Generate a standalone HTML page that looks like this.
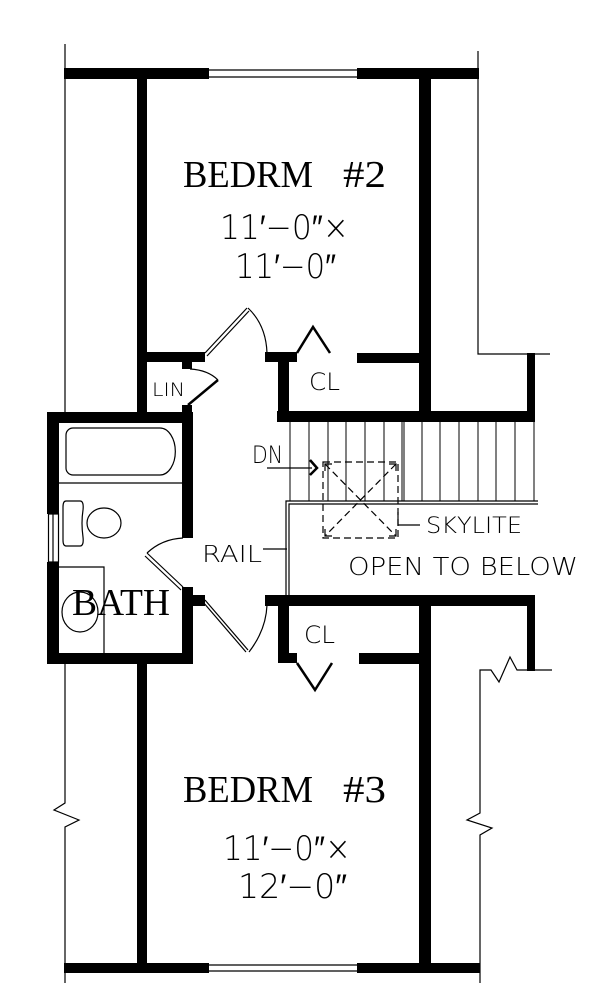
<!DOCTYPE html>
<html><head><meta charset="utf-8"><style>html,body{margin:0;padding:0;background:#fff}svg{display:block}
.c{font-family:"DejaVu Sans","Liberation Sans",sans-serif;font-weight:200;fill:#000}
.s{font-family:"Liberation Serif",serif;fill:#000}</style></head>
<body>
<svg width="600" height="1008" viewBox="0 0 600 1008" xmlns="http://www.w3.org/2000/svg">
<g fill="#000">
<!-- top wall -->
<rect x="64" y="68" width="415" height="11"/>
<rect x="209" y="68" width="148" height="11" fill="#fff"/>
<!-- bottom wall -->
<rect x="64" y="963" width="416" height="10"/>
<rect x="209" y="963" width="148" height="10" fill="#fff"/>
<!-- bedroom side walls -->
<rect x="137" y="79" width="10" height="333"/>
<rect x="137" y="664" width="10" height="300"/>
<rect x="419" y="79" width="12" height="343"/>
<rect x="419" y="595" width="12" height="368"/>
<!-- bedroom2 bottom walls -->
<rect x="147" y="352" width="58" height="10"/>
<rect x="182" y="352" width="10" height="17"/>
<rect x="265" y="352" width="32" height="10"/>
<rect x="278" y="352" width="11" height="70"/>
<rect x="357" y="353" width="63" height="10"/>
<!-- stair top wall -->
<rect x="277" y="411" width="258" height="11"/>
<rect x="527" y="353" width="8" height="69"/>
<!-- bath -->
<rect x="47" y="412" width="146" height="11"/>
<rect x="182" y="405" width="10" height="10"/>
<rect x="47" y="412" width="12" height="102"/>
<rect x="47" y="562" width="12" height="102"/>
<rect x="47" y="653" width="146" height="11"/>
<rect x="182" y="412" width="11" height="126"/>
<rect x="182" y="587" width="11" height="77"/>
<rect x="182" y="595" width="23" height="11"/>
<!-- bedroom3 top wall -->
<rect x="265" y="595" width="270" height="11"/>
<rect x="527" y="595" width="8" height="76"/>
<rect x="278" y="595" width="11" height="68"/>
<rect x="278" y="653" width="19" height="10"/>
<rect x="359" y="653" width="61" height="11"/>
</g>
<g fill="none" stroke="#000" stroke-width="1.2">
<!-- windows -->
<line x1="209" y1="70" x2="357" y2="70"/><line x1="209" y1="77" x2="357" y2="77"/>
<line x1="209" y1="965" x2="357" y2="965"/><line x1="209" y1="971" x2="357" y2="971"/>
<rect x="48.5" y="514" width="10" height="48"/><line x1="53" y1="514" x2="53" y2="562"/>
<!-- outer thin lines -->
<polyline points="65,44 65,412"/>
<polyline points="65,664 65,803 54,810 79,820 65,827 65,983"/>
<polyline points="478,51 478,354 550,354"/>
<polyline points="552,670 517,670 510,657 499,682 491,670 480,670 480,813 467,820 492,828 480,835 480,983"/>
<!-- bedroom2 door -->
<line x1="205" y1="353" x2="247" y2="308"/><line x1="207" y1="356" x2="249" y2="311"/>
<path d="M248,308 Q266,325 267,353"/>
<!-- CL bifold top -->
<polyline points="297,353 313,327 330,353" stroke-width="2.5"/>
<!-- LIN door -->
<line x1="188" y1="405" x2="218" y2="380" stroke-width="2.5"/>
<path d="M190,369 Q208,370 218,380"/>
<!-- bath door -->
<line x1="183" y1="587" x2="147" y2="553"/><line x1="181" y1="590" x2="145" y2="556"/>
<path d="M147,553 Q162,539 183,538"/>
<!-- bedroom3 door -->
<line x1="205" y1="600" x2="248" y2="650"/><line x1="203" y1="602" x2="246" y2="652"/>
<path d="M249,652 Q266,630 267,605"/>
<!-- CL bifold bottom -->
<polyline points="297,663 315,690 332,663" stroke-width="2.5"/>
<!-- tub -->
<path d="M73,428 H160 A15,23 0 0 1 160,475 H73 A7,7 0 0 1 66,468 V435 A7,7 0 0 1 73,428 Z"/>
<line x1="59" y1="483" x2="182" y2="483"/>
<!-- toilet -->
<path d="M66,501 H80 Q84,501 83,510 Q81,523 83,537 Q84,546 80,546 H66 Q63,546 63,540 V507 Q63,501 66,501Z"/>
<ellipse cx="104" cy="523" rx="17" ry="15"/>
<!-- vanity -->
<polyline points="59,567 104,567 104,653"/>
<ellipse cx="80" cy="612" rx="18" ry="20"/>
<!-- stairs -->
<g stroke-width="1">
<line x1="290" y1="422" x2="290" y2="501"/><line x1="309" y1="422" x2="309" y2="501"/>
<line x1="328" y1="422" x2="328" y2="501"/><line x1="346" y1="422" x2="346" y2="501"/>
<line x1="365" y1="422" x2="365" y2="501"/><line x1="384" y1="422" x2="384" y2="501"/>
<line x1="402" y1="422" x2="402" y2="501"/><line x1="404" y1="422" x2="404" y2="501"/>
<line x1="422" y1="422" x2="422" y2="501"/><line x1="440" y1="422" x2="440" y2="501"/>
<line x1="459" y1="422" x2="459" y2="501"/><line x1="478" y1="422" x2="478" y2="501"/>
<line x1="496" y1="422" x2="496" y2="501"/><line x1="515" y1="422" x2="515" y2="501"/>
<line x1="534" y1="422" x2="534" y2="501"/>
</g>
<!-- rail -->
<polyline points="286,595 286,501 538,501"/>
<polyline points="289,595 289,504 538,504"/>
<line x1="263" y1="549" x2="287" y2="549"/>
<!-- DN arrow -->
<line x1="267" y1="468" x2="312" y2="468"/>
<polyline points="310,460 317,468 310,475" stroke-width="2.5"/>
<!-- skylight -->
<rect x="323" y="462" width="75" height="76" stroke-dasharray="7,4"/>
<line x1="325" y1="464" x2="396" y2="536" stroke-dasharray="7,4"/>
<line x1="396" y1="464" x2="325" y2="536" stroke-dasharray="7,4"/>
<polyline points="325,471 325,464 332,464"/><polyline points="389,464 396,464 396,471"/>
<polyline points="325,529 325,536 332,536"/><polyline points="389,536 396,536 396,529"/>
<polyline points="398,512 398,525 420,525"/>
</g>
<!-- labels -->
<text class="s" x="183" y="187" font-size="38" textLength="130" lengthAdjust="spacingAndGlyphs">BEDRM</text>
<text class="s" x="343" y="187" font-size="38" textLength="43" lengthAdjust="spacingAndGlyphs">#2</text>
<text class="c" x="220" y="239" font-size="34" textLength="129" lengthAdjust="spacingAndGlyphs">11′−0″×</text>
<text class="c" x="235" y="278" font-size="34" textLength="101" lengthAdjust="spacingAndGlyphs">11′−0″</text>
<text class="s" x="183" y="802" font-size="38" textLength="130" lengthAdjust="spacingAndGlyphs">BEDRM</text>
<text class="s" x="343" y="802" font-size="38" textLength="43" lengthAdjust="spacingAndGlyphs">#3</text>
<text class="c" x="223" y="860" font-size="34" textLength="128" lengthAdjust="spacingAndGlyphs">11′−0″×</text>
<text class="c" x="238" y="898" font-size="34" textLength="109" lengthAdjust="spacingAndGlyphs">12′−0″</text>
<text class="s" x="72" y="615" font-size="38" textLength="98" lengthAdjust="spacingAndGlyphs">BATH</text>
<text class="c" x="152" y="396" font-size="19" textLength="33" lengthAdjust="spacingAndGlyphs">LIN</text>
<text class="c" x="309" y="390" font-size="24" textLength="31" lengthAdjust="spacingAndGlyphs">CL</text>
<text class="c" x="304" y="643" font-size="24" textLength="31" lengthAdjust="spacingAndGlyphs">CL</text>
<text class="c" x="252" y="463" font-size="24" textLength="31" lengthAdjust="spacingAndGlyphs">DN</text>
<text class="c" x="202" y="562" font-size="23" textLength="60" lengthAdjust="spacingAndGlyphs">RAIL</text>
<text class="c" x="426" y="533" font-size="22" textLength="96" lengthAdjust="spacingAndGlyphs">SKYLITE</text>
<text class="c" x="348" y="575" font-size="25" textLength="230" lengthAdjust="spacingAndGlyphs">OPEN TO BELOW</text>
</svg>
</body></html>
